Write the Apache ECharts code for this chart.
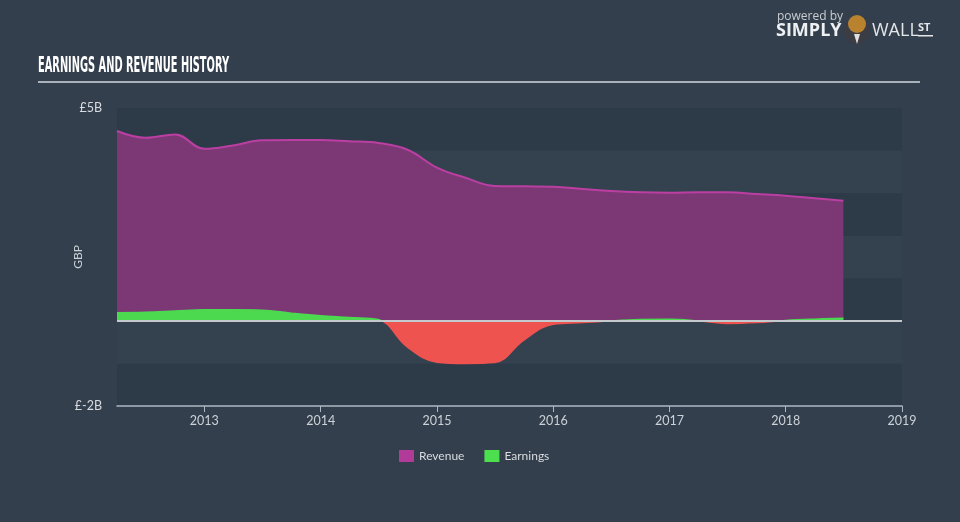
<!DOCTYPE html>
<html><head><meta charset="utf-8">
<script src="https://cdn.jsdelivr.net/npm/echarts@6/dist/echarts.min.js"></script>
<style>html,body{margin:0;padding:0;background:#333f4d;}#c{width:960px;height:522px;}</style>
</head><body><div id="c"></div>
<script>
const dates = ['2012-03-31','2012-06-30','2012-09-30','2012-12-31','2013-03-31','2013-06-30','2013-09-30','2013-12-31',
 '2014-03-31','2014-06-30','2014-09-30','2014-12-31','2015-03-31','2015-06-30','2015-09-30','2015-12-31',
 '2016-03-31','2016-06-30','2016-09-30','2016-12-31','2017-03-31','2017-06-30','2017-09-30','2017-12-31',
 '2018-03-31','2018-06-30'];
const revenue = [4.46,4.30,4.38,4.04,4.12,4.24,4.25,4.25,4.22,4.18,4.02,3.60,3.36,3.17,3.16,3.15,
 3.10,3.05,3.02,3.01,3.02,3.02,2.98,2.94,2.88,2.82];
const earnings = [0.19,0.20,0.23,0.26,0.26,0.25,0.18,0.12,0.08,0.03,-0.62,-0.97,-1.0,-0.98,-0.45,-0.08,
 -0.04,0.0,0.03,0.04,0.0,-0.06,-0.04,0.01,0.04,0.06];
const yearTicks = [2013,2014,2015,2016,2017,2018,2019];
const yLabels = {'5':'£5B','-2':'£-2B'};
const seriesNames = ['Revenue','Earnings'];
const titleText = 'EARNINGS AND REVENUE HISTORY';

function toYear(s){
  const p = s.split('-').map(Number);
  const t = Date.UTC(p[0],p[1]-1,p[2]+1);
  const a = Date.UTC(p[0],0,1), b = Date.UTC(p[0]+1,0,1);
  return p[0] + (t-a)/(b-a);
}
const xs = dates.map(toYear);
const revData = xs.map((x,i)=>[x,revenue[i]]);
const earnData = xs.map((x,i)=>[x,earnings[i]]);

const titleFont = 'bold 21px "DejaVu Sans Condensed", "DejaVu Sans", sans-serif';
const mctx = document.createElement('canvas').getContext('2d');
mctx.font = titleFont;
const titleScale = 191 / mctx.measureText(titleText).width;

const chart = echarts.init(document.getElementById('c'));
chart.setOption({
  backgroundColor:'#333f4d',
  animation:false,
  textStyle:{fontFamily:'Lato, "Open Sans", sans-serif'},
  grid:{left:117,right:58,top:108,bottom:116},
  legend:{
    data:seriesNames, bottom:55, left:394, itemWidth:15, itemHeight:12, itemGap:20,
    icon:'rect', textStyle:{color:'#d8dce0',fontSize:12}
  },
  xAxis:{
    type:'value', min:toYear('2012-03-31'), max:2019,
    axisLine:{show:true,onZero:false,lineStyle:{color:'#aeb8c2',width:1.5}},
    axisTick:{show:true,customValues:yearTicks,length:6,lineStyle:{color:'#aeb8c2'}},
    axisLabel:{customValues:yearTicks,color:'#ccd2d8',fontSize:12.5,margin:8,
      formatter:v=>String(Math.round(v))},
    splitLine:{show:false}
  },
  yAxis:{
    type:'value', min:-2, max:5, interval:1,
    name:'GBP', nameLocation:'middle', nameGap:33, nameRotate:90, nameMoveOverlap:false,
    nameTextStyle:{color:'#ccd2d8',fontSize:12},
    axisLine:{show:false}, axisTick:{show:false},
    axisLabel:{color:'#d8dce0',fontSize:12.5,margin:15,formatter:v=>yLabels[String(v)]||''},
    splitLine:{show:false},
    splitArea:{show:true,areaStyle:{color:['#2d3a48','#344250']}}
  },
  visualMap:{
    show:false, type:'piecewise', seriesIndex:1, dimension:1,
    pieces:[{gte:-3,lt:0,color:'#ef5350'},{gte:0,lte:6,color:'#4cd950'}]
  },
  series:[
    {
      name:'Revenue', type:'line', data:revData, smooth:0.4, symbol:'none',
      itemStyle:{color:'#b23b9a'},
      lineStyle:{color:'#bb3fa2',width:2},
      areaStyle:{color:'#7b3875',opacity:1},
      markLine:{silent:true,symbol:'none',label:{show:false},
        lineStyle:{color:'#c4c9ce',width:2,type:'solid'},data:[{yAxis:0}]},
      z:2
    },
    {
      name:'Earnings', type:'line', data:earnData, smooth:0.4, symbol:'none',
      itemStyle:{color:'#4ce04f'},
      lineStyle:{width:1.5},
      areaStyle:{opacity:1},
      z:3
    }
  ],
  graphic:[
    {type:'text',x:38,y:56,scaleX:titleScale,style:{text:titleText,fill:'#ffffff',font:titleFont,verticalAlign:'top'}},
    {type:'rect',shape:{x:38,y:81,width:882,height:2},style:{fill:'#a9b1ba'}},
    {type:'text',left:777,top:11,style:{text:'powered by',fill:'#c8ccd0',font:'12px "Open Sans", sans-serif'}},
    {type:'text',left:776,top:22,style:{text:'SIMPLY',fill:'#eef0f2',font:'bold 18px "Open Sans", sans-serif'}},
    {type:'circle',shape:{cx:857,cy:31,r:13},style:{fill:'#3c3c44'}},
    {type:'circle',shape:{cx:857,cy:24,r:9},style:{fill:'#b8822e'}},
    {type:'polygon',shape:{points:[[854,34],[860,34],[857,44]]},style:{fill:'#e0e0e0'}},
    {type:'text',left:872,top:22,style:{text:'WALL',fill:'#e4e6e8',font:'18px "Open Sans", sans-serif'}},
    {type:'text',left:918,top:22,style:{text:'ST',fill:'#e4e6e8',font:'bold 11px "Open Sans", sans-serif'}},
    {type:'rect',shape:{x:918,y:35,width:15,height:1.5},style:{fill:'#e4e6e8'}}
  ]
});
</script></body></html>
